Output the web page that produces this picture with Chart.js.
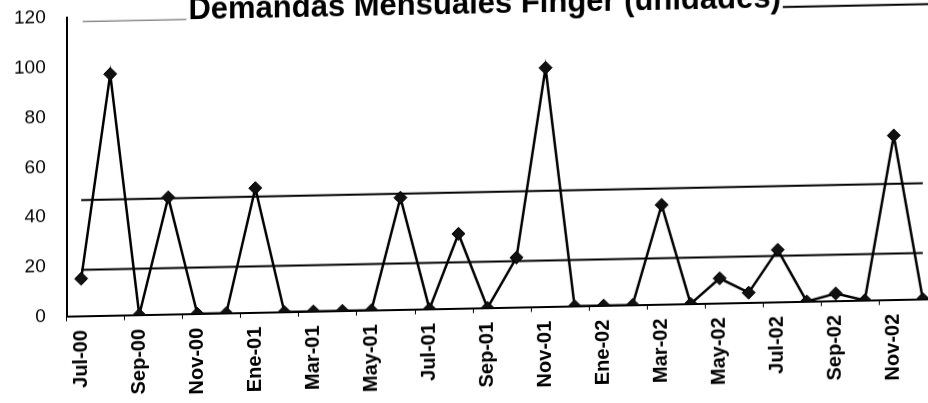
<!DOCTYPE html>
<html>
<head>
<meta charset="utf-8">
<script src="https://cdn.jsdelivr.net/npm/chart.js@4.4.0/dist/chart.umd.min.js"></script>
<style>
  html, body { margin: 0; padding: 0; background: #fff; }
  #marco { position: relative; width: 928px; height: 403px; overflow: hidden; background: #fff; }
  #grafico { position: absolute; left: 0; top: 0; transform: skewY(-1.15deg); transform-origin: 0 0; }
</style>
</head>
<body>
<div id="marco"><canvas id="grafico" width="945" height="412"></canvas></div>
<script>
const titulo = 'Demandas Mensuales Finger (unidades)';

const meses = ['Jul-00','Ago-00','Sep-00','Oct-00','Nov-00','Dic-00',
               'Ene-01','Feb-01','Mar-01','Abr-01','May-01','Jun-01',
               'Jul-01','Ago-01','Sep-01','Oct-01','Nov-01','Dic-01',
               'Ene-02','Feb-02','Mar-02','Abr-02','May-02','Jun-02',
               'Jul-02','Ago-02','Sep-02','Oct-02','Nov-02','Dic-02'];

const etiquetasX = ['Jul-00','Sep-00','Nov-00','Ene-01','Mar-01','May-01','Jul-01',
                    'Sep-01','Nov-01','Ene-02','Mar-02','May-02','Jul-02','Sep-02','Nov-02'];

const demanda = [15, 97, 0, 47, 0, 0,
                 50, 0, 0, 0, 0, 45,
                 0, 30, 0, 20, 96, 0,
                 0, 0, 40, 0, 10, 4,
                 21, 0, 3, 0, 66, 0];

const promedio = 18.6;
const promedioMasDesv = 46.6;

const ejeYMin = 0;
const ejeYMax = 120;
const ejeYPaso = 20;

const fuente = '"Liberation Sans", Arial, sans-serif';

const tituloSubrayado = {
  id: 'tituloSubrayado',
  afterDraw(chart) {
    const ctx = chart.ctx;
    const a = chart.chartArea;
    ctx.save();
    ctx.font = 'bold 31px ' + fuente;
    ctx.fillStyle = '#000';
    ctx.textAlign = 'center';
    ctx.textBaseline = 'alphabetic';
    const cx = a.left + 0.48 * (a.right - a.left);
    const base = a.top + 3.7;
    ctx.fillText(titulo, cx, base);
    const w = ctx.measureText(titulo).width;
    ctx.strokeStyle = '#555';
    ctx.lineWidth = 1;
    ctx.beginPath();
    ctx.moveTo(a.left + 16, base + 0.5);
    ctx.lineTo(cx - w / 2 - 2, base + 0.5);
    ctx.stroke();
    ctx.strokeStyle = '#000';
    ctx.lineWidth = 2;
    ctx.beginPath();
    ctx.moveTo(cx + w / 2 + 2, base);
    ctx.lineTo(chart.width, base);
    ctx.stroke();
    ctx.restore();
  }
};

const lineaRef = (valor) => [
  { x: meses[0], y: valor },
  { x: meses[meses.length - 1], y: valor }
];

const ajustarEje = (escala) => {
  escala.paddingLeft = 0;
  escala.paddingRight = 0;
  escala.paddingTop = 0;
  escala.paddingBottom = 0;
  if (escala.isHorizontal()) {
    escala.height -= escala.options.ticks.padding;
  } else {
    escala.width -= escala.options.ticks.padding;
  }
};

new Chart(document.getElementById('grafico'), {
  type: 'line',
  data: {
    labels: meses,
    datasets: [
      {
        label: 'Demanda',
        data: demanda,
        borderColor: '#000',
        backgroundColor: '#000',
        borderWidth: 2.5,
        tension: 0,
        pointStyle: 'rectRot',
        pointRadius: 6.5,
        pointBackgroundColor: '#111',
        pointBorderColor: '#000',
        pointBorderWidth: 1,
        order: 0
      },
      {
        label: 'Promedio',
        data: lineaRef(promedio),
        borderColor: '#000',
        borderWidth: 2,
        pointRadius: 0,
        tension: 0,
        order: 1
      },
      {
        label: 'Promedio + desviación',
        data: lineaRef(promedioMasDesv),
        borderColor: '#000',
        borderWidth: 2,
        pointRadius: 0,
        tension: 0,
        order: 2
      }
    ]
  },
  options: {
    responsive: false,
    animation: false,
    devicePixelRatio: 1,
    layout: { padding: { top: 19, left: 14, right: 3, bottom: 12.5 } },
    plugins: {
      legend: { display: false },
      title: { display: false },
      tooltip: { enabled: false }
    },
    scales: {
      x: {
        offset: true,
        afterFit: ajustarEje,
        grid: {
          display: true,
          drawOnChartArea: false,
          drawTicks: true,
          tickLength: 5,
          offset: true,
          lineWidth: 1,
          color: (c) => (c.index % 2 === 0 ? '#000' : 'rgba(0,0,0,0)')
        },
        border: { display: true, color: '#000', width: 2 },
        ticks: {
          autoSkip: false,
          minRotation: 90,
          maxRotation: 90,
          padding: 9,
          color: '#000',
          font: { family: fuente, size: 20, weight: 'bold' },
          callback: (v, i) => (etiquetasX.includes(meses[i]) ? meses[i] : '')
        }
      },
      y: {
        min: ejeYMin,
        max: ejeYMax,
        afterFit: ajustarEje,
        grid: { display: false, drawTicks: false },
        border: { display: true, color: '#000', width: 2 },
        ticks: {
          stepSize: ejeYPaso,
          padding: 21,
          color: '#000',
          font: { family: fuente, size: 19 }
        }
      }
    }
  },
  plugins: [tituloSubrayado]
});
</script>
</body>
</html>
